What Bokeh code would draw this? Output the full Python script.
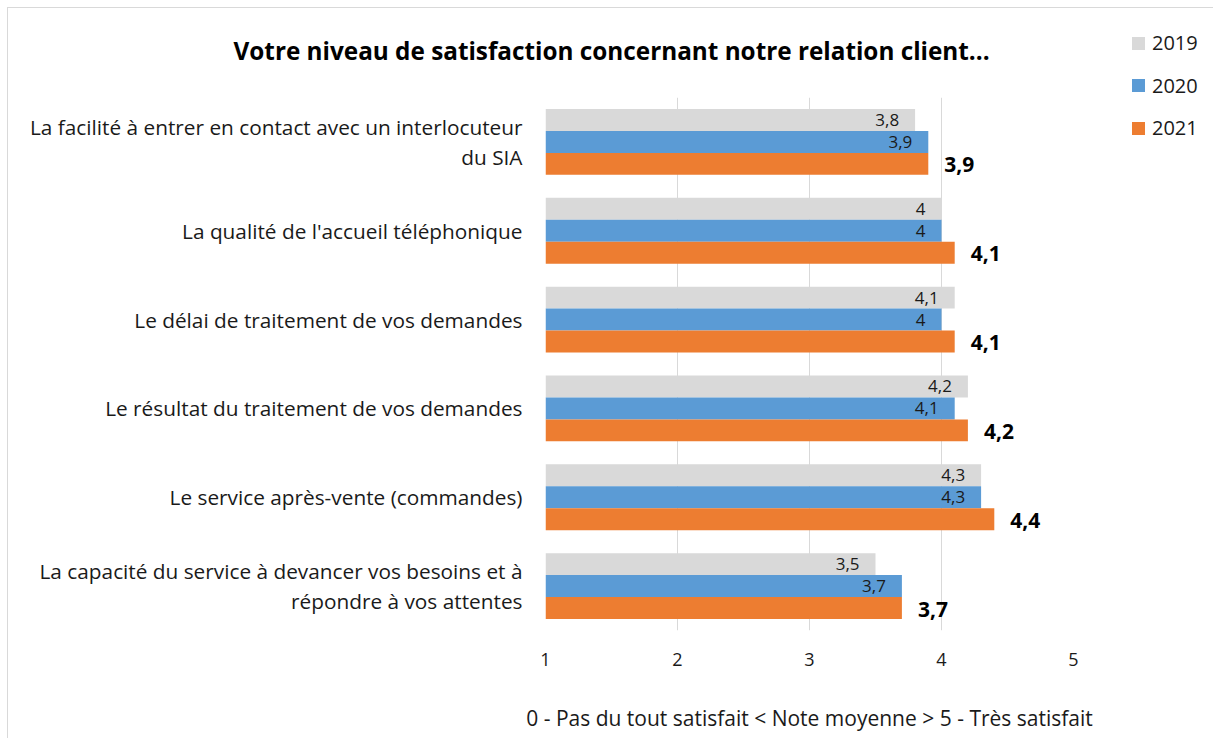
from bokeh.plotting import figure
from bokeh.models import ColumnDataSource, FactorRange, Title, Div
from bokeh.layouts import row
from bokeh.transform import dodge
from bokeh.core.properties import value
from bokeh.embed import file_html
from bokeh.resources import INLINE

categories = [
    "La facilité à entrer en contact avec un interlocuteur\ndu SIA",
    "La qualité de l'accueil téléphonique",
    "Le délai de traitement de vos demandes",
    "Le résultat du traitement de vos demandes",
    "Le service après-vente (commandes)",
    "La capacité du service à devancer vos besoins et à\nrépondre à vos attentes",
]
years = ["2019", "2020", "2021"]
v2019 = [3.8, 4.0, 4.1, 4.2, 4.3, 3.5]
v2020 = [3.9, 4.0, 4.0, 4.1, 4.3, 3.7]
v2021 = [3.9, 4.1, 4.1, 4.2, 4.4, 3.7]
x_ticks = [1, 2, 3, 4, 5]
title_text = "Votre niveau de satisfaction concernant notre relation client..."
x_title = "0 - Pas du tout satisfait < Note moyenne > 5 - Très satisfait"

colors = ["#D9D9D9", "#5B9BD5", "#ED7D31"]
FONT = "Open Sans"
TXT = "#1a1a1a"


def fmt(v):
    s = ("%.1f" % v).rstrip("0").rstrip(".")
    return s.replace(".", ",")


src = ColumnDataSource(dict(
    cat=categories,
    v2019=v2019, v2020=v2020, v2021=v2021,
    l2019=[fmt(v) for v in v2019],
    l2020=[fmt(v) for v in v2020],
    l2021=[fmt(v) for v in v2021],
    base=[1] * len(categories),
))

W, H = 1099, 738
p = figure(width=W, height=H,
           y_range=FactorRange(*reversed(categories)),
           x_range=(1, 5),
           output_backend="svg", toolbar_location=None,
           min_border_left=545, min_border_right=W - 1073,
           min_border_top=97, min_border_bottom=108)
p.outline_line_color = None
p.background_fill_color = "white"
p.border_fill_alpha = 0

bh = 0.247
offs = [bh, 0.0, -bh]
for yr, off, col in zip(years, offs, colors):
    p.hbar(y=dodge("cat", off, range=p.y_range), right="v" + yr, left="base",
           height=bh, source=src, fill_color=col, line_color=None)

# inside labels for 2019 and 2020
for yr, off in zip(years[:2], offs[:2]):
    p.text(x="v" + yr, y=dodge("cat", off, range=p.y_range), text="l" + yr, source=src,
           text_align="right", text_baseline="middle", x_offset=-16,
           text_font=value(FONT), text_font_size="17px", text_color=TXT)
# outside bold labels for 2021
p.text(x="v2021", y=dodge("cat", offs[2], range=p.y_range), text="l2021", source=src,
       text_align="left", text_baseline="middle", x_offset=16, y_offset=1,
       text_font=value(FONT), text_font_size="21px", text_font_style="bold",
       text_color="#000000")

# axes
xax = p.xaxis[0]
xax.ticker = x_ticks
xax.axis_line_color = None
xax.major_tick_line_color = None
xax.minor_tick_line_color = None
xax.major_label_text_font = FONT
xax.major_label_text_font_size = "18px"
xax.major_label_text_color = TXT
xax.major_label_standoff = 16
xax.axis_label = x_title
xax.axis_label_text_font = FONT
xax.axis_label_text_font_size = "21px"
xax.axis_label_text_font_style = "normal"
xax.axis_label_text_color = TXT
xax.axis_label_standoff = 35

p.yaxis.axis_line_color = None
p.yaxis.major_tick_line_color = None
p.yaxis.minor_tick_line_color = None
p.yaxis.major_label_text_font = FONT
p.yaxis.major_label_text_font_size = "20.8px"
p.yaxis.major_label_text_line_height = 1.05
p.yaxis.major_label_text_color = TXT
p.yaxis.major_label_standoff = 17

p.xgrid.grid_line_color = "#D9D9D9"
p.xgrid.grid_line_width = 1
p.ygrid.grid_line_color = None

# title
t = Title(text=title_text, align="left", offset=-312,
          text_font=FONT, text_font_size="24.3px", text_font_style="bold",
          text_color="#000000", standoff=62)
p.add_layout(t, "above")

# legend (HTML block to the right of the plot)
LW = 1213 - W
parts = []
for i, (yr, c) in enumerate(zip(years, colors)):
    cy = 43 + 42.5 * i
    parts.append(
        f'<div style="position:absolute;left:{1132 - W}px;top:{cy - 6.5}px;'
        f'width:13px;height:13px;background:{c};"></div>')
    parts.append(
        f'<div style="position:absolute;left:{1152 - W}px;top:{cy - 14}px;height:28px;'
        f'line-height:28px;font-family:\'{FONT}\';font-size:20px;color:{TXT};'
        f'white-space:nowrap;">{yr}</div>')
legend_html = (f'<div style="position:relative;width:{LW}px;height:170px;margin:0;padding:0;">'
               + "".join(parts) + '</div>')
legend_div = Div(text=legend_html, width=LW, height=170, margin=0)

layout = row(p, legend_div, spacing=0)
layout.styles = {
    "background": ("linear-gradient(#D9D9D9,#D9D9D9) 7px 7px / 1px 740px no-repeat, "
                   "linear-gradient(#D9D9D9,#D9D9D9) 7px 7px / 1220px 1px no-repeat, #ffffff"),
}
open("out.html", "w").write(file_html(layout, INLINE))
